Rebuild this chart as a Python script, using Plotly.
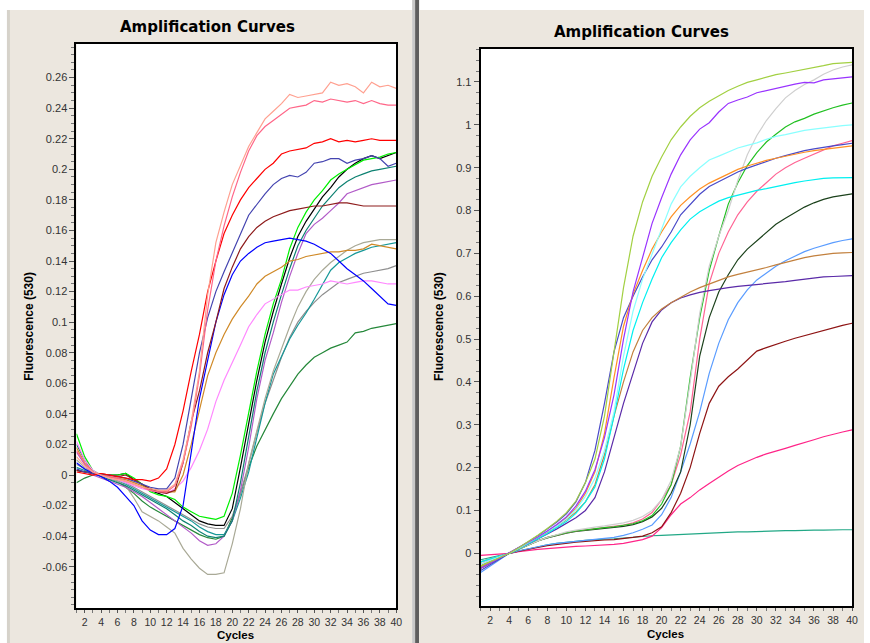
import plotly.graph_objects as go

W, H = 870, 643
cycles = list(range(1, 41))

# ---------------- Left panel data ----------------
L_salmon = [0.012, 0.006, 0.002, 0.0, -0.002, -0.003, -0.004, -0.006, -0.008, -0.009, -0.010, -0.010, -0.006, 0.010, 0.035, 0.068, 0.118, 0.152, 0.172, 0.190, 0.203, 0.215, 0.224, 0.233, 0.238, 0.243, 0.249, 0.247, 0.248, 0.249, 0.250, 0.257, 0.255, 0.256, 0.254, 0.250, 0.257, 0.254, 0.255, 0.253]
L_pink = [0.016, 0.008, 0.002, 0.0, -0.001, -0.002, -0.004, -0.006, -0.008, -0.010, -0.011, -0.011, -0.007, 0.008, 0.032, 0.065, 0.108, 0.140, 0.163, 0.182, 0.198, 0.212, 0.222, 0.228, 0.232, 0.236, 0.240, 0.241, 0.242, 0.245, 0.244, 0.246, 0.245, 0.244, 0.245, 0.243, 0.245, 0.243, 0.242, 0.242]
L_red = [0.002, 0.001, 0.0, 0.001, 0.0, -0.001, -0.002, -0.003, -0.003, -0.004, -0.002, 0.004, 0.020, 0.042, 0.068, 0.092, 0.120, 0.140, 0.158, 0.170, 0.180, 0.188, 0.194, 0.200, 0.204, 0.210, 0.212, 0.213, 0.214, 0.217, 0.218, 0.220, 0.218, 0.219, 0.218, 0.219, 0.220, 0.219, 0.219, 0.219]
L_slate = [0.004, 0.002, 0.001, 0.0, 0.0, -0.001, -0.002, -0.004, -0.006, -0.008, -0.009, -0.009, -0.002, 0.020, 0.050, 0.080, 0.103, 0.120, 0.133, 0.145, 0.158, 0.170, 0.177, 0.184, 0.190, 0.194, 0.196, 0.195, 0.198, 0.204, 0.205, 0.207, 0.207, 0.204, 0.206, 0.207, 0.209, 0.207, 0.202, 0.204]
L_maroon = [0.003, 0.002, 0.001, 0.001, 0.0, -0.001, 0.0, -0.003, -0.006, -0.009, -0.011, -0.012, -0.010, 0.008, 0.035, 0.055, 0.080, 0.100, 0.122, 0.136, 0.148, 0.156, 0.162, 0.166, 0.169, 0.171, 0.173, 0.174, 0.175, 0.176, 0.176, 0.177, 0.178, 0.178, 0.177, 0.176, 0.176, 0.176, 0.176, 0.176]
L_blue = [0.008, 0.004, 0.001, -0.001, -0.004, -0.008, -0.014, -0.020, -0.030, -0.036, -0.039, -0.039, -0.035, -0.020, 0.015, 0.050, 0.075, 0.100, 0.118, 0.131, 0.140, 0.145, 0.149, 0.152, 0.153, 0.154, 0.155, 0.154, 0.153, 0.151, 0.148, 0.145, 0.140, 0.135, 0.131, 0.127, 0.122, 0.117, 0.112, 0.111]
L_orange = [0.018, 0.008, 0.002, 0.0, -0.001, -0.002, -0.003, -0.005, -0.007, -0.009, -0.010, -0.011, -0.011, 0.000, 0.020, 0.042, 0.065, 0.080, 0.092, 0.102, 0.110, 0.117, 0.125, 0.130, 0.133, 0.136, 0.140, 0.141, 0.143, 0.144, 0.145, 0.146, 0.146, 0.147, 0.147, 0.148, 0.151, 0.150, 0.149, 0.148]
L_magenta = [0.022, 0.010, 0.003, 0.0, -0.002, -0.003, -0.005, -0.007, -0.009, -0.010, -0.011, -0.012, -0.009, -0.004, 0.005, 0.016, 0.030, 0.048, 0.062, 0.073, 0.085, 0.097, 0.105, 0.112, 0.115, 0.118, 0.121, 0.121, 0.123, 0.124, 0.125, 0.127, 0.126, 0.125, 0.126, 0.127, 0.127, 0.126, 0.125, 0.125]
L_lime = [0.027, 0.012, 0.003, 0.0, 0.0, 0.0, 0.001, -0.002, -0.006, -0.011, -0.013, -0.014, -0.016, -0.021, -0.024, -0.027, -0.028, -0.029, -0.027, -0.012, 0.013, 0.040, 0.068, 0.092, 0.112, 0.128, 0.148, 0.162, 0.172, 0.180, 0.186, 0.193, 0.197, 0.200, 0.203, 0.206, 0.207, 0.208, 0.210, 0.211]
L_black = [0.003, 0.002, 0.001, 0.0, 0.0, 0.0, 0.001, -0.003, -0.006, -0.010, -0.012, -0.014, -0.018, -0.022, -0.026, -0.030, -0.032, -0.033, -0.033, -0.022, 0.005, 0.033, 0.062, 0.087, 0.107, 0.125, 0.142, 0.156, 0.166, 0.174, 0.182, 0.188, 0.195, 0.200, 0.204, 0.207, 0.209, 0.207, 0.209, 0.211]
L_tealgreen = [0.020, 0.010, 0.002, -0.001, -0.003, -0.005, -0.007, -0.010, -0.013, -0.016, -0.019, -0.022, -0.026, -0.030, -0.033, -0.037, -0.040, -0.041, -0.040, -0.030, -0.005, 0.025, 0.055, 0.080, 0.100, 0.118, 0.135, 0.150, 0.160, 0.168, 0.176, 0.182, 0.188, 0.192, 0.195, 0.197, 0.199, 0.200, 0.201, 0.202]
L_purple = [0.015, 0.007, 0.0, -0.002, -0.004, -0.006, -0.008, -0.011, -0.014, -0.018, -0.022, -0.026, -0.030, -0.034, -0.038, -0.043, -0.046, -0.045, -0.040, -0.030, -0.010, 0.018, 0.050, 0.075, 0.093, 0.113, 0.130, 0.145, 0.158, 0.164, 0.168, 0.173, 0.178, 0.184, 0.186, 0.188, 0.190, 0.191, 0.192, 0.193]
L_khaki = [0.010, 0.005, 0.001, -0.001, -0.002, -0.004, -0.007, -0.015, -0.024, -0.027, -0.030, -0.034, -0.038, -0.048, -0.055, -0.061, -0.065, -0.065, -0.064, -0.045, -0.022, 0.008, 0.030, 0.050, 0.068, 0.083, 0.097, 0.110, 0.120, 0.128, 0.134, 0.139, 0.143, 0.147, 0.150, 0.152, 0.153, 0.154, 0.154, 0.154]
L_teal = [0.005, 0.003, 0.001, 0.0, -0.002, -0.004, -0.006, -0.009, -0.012, -0.015, -0.018, -0.021, -0.024, -0.027, -0.030, -0.034, -0.037, -0.039, -0.039, -0.030, -0.015, 0.002, 0.025, 0.047, 0.066, 0.078, 0.089, 0.098, 0.106, 0.115, 0.125, 0.134, 0.139, 0.142, 0.145, 0.147, 0.149, 0.150, 0.151, 0.152]
L_gray = [0.007, 0.004, 0.001, 0.0, -0.001, -0.003, -0.005, -0.008, -0.011, -0.014, -0.017, -0.020, -0.023, -0.026, -0.029, -0.032, -0.034, -0.035, -0.035, -0.027, -0.012, 0.007, 0.028, 0.047, 0.062, 0.077, 0.090, 0.100, 0.107, 0.113, 0.118, 0.122, 0.126, 0.128, 0.130, 0.132, 0.133, 0.134, 0.135, 0.137]
L_darkgreen = [-0.005, -0.002, 0.0, 0.0, -0.002, -0.004, -0.008, -0.012, -0.017, -0.021, -0.024, -0.027, -0.030, -0.033, -0.036, -0.039, -0.041, -0.042, -0.040, -0.028, -0.012, 0.005, 0.019, 0.030, 0.040, 0.050, 0.058, 0.066, 0.072, 0.077, 0.080, 0.083, 0.085, 0.087, 0.093, 0.094, 0.096, 0.097, 0.098, 0.099]

# ---------------- Right panel data ----------------
R_yg = [-0.030, -0.020, -0.010, 0.0, 0.013, 0.027, 0.042, 0.058, 0.075, 0.095, 0.122, 0.165, 0.220, 0.320, 0.470, 0.620, 0.740, 0.820, 0.880, 0.925, 0.965, 0.995, 1.020, 1.040, 1.055, 1.068, 1.080, 1.090, 1.099, 1.105, 1.111, 1.117, 1.121, 1.125, 1.129, 1.133, 1.138, 1.143, 1.144, 1.146]
R_purple = [-0.035, -0.023, -0.012, 0.0, 0.012, 0.025, 0.038, 0.052, 0.067, 0.085, 0.110, 0.145, 0.195, 0.270, 0.370, 0.500, 0.610, 0.690, 0.770, 0.830, 0.885, 0.930, 0.965, 0.990, 1.005, 1.030, 1.050, 1.058, 1.065, 1.075, 1.080, 1.086, 1.090, 1.095, 1.099, 1.098, 1.105, 1.107, 1.110, 1.112]
R_lcyan = [-0.025, -0.017, -0.008, 0.0, 0.012, 0.025, 0.037, 0.050, 0.064, 0.080, 0.102, 0.133, 0.175, 0.240, 0.330, 0.460, 0.565, 0.640, 0.700, 0.760, 0.815, 0.855, 0.880, 0.900, 0.918, 0.927, 0.936, 0.946, 0.952, 0.958, 0.966, 0.973, 0.977, 0.982, 0.987, 0.990, 0.993, 0.996, 0.998, 1.000]
R_orange = [-0.030, -0.020, -0.010, 0.0, 0.012, 0.025, 0.038, 0.051, 0.066, 0.083, 0.105, 0.140, 0.190, 0.280, 0.410, 0.530, 0.605, 0.660, 0.710, 0.750, 0.785, 0.812, 0.832, 0.850, 0.864, 0.875, 0.886, 0.896, 0.904, 0.911, 0.917, 0.922, 0.927, 0.931, 0.936, 0.940, 0.943, 0.946, 0.949, 0.951]
R_slate = [-0.040, -0.027, -0.013, 0.0, 0.013, 0.027, 0.041, 0.056, 0.073, 0.092, 0.120, 0.165, 0.240, 0.350, 0.470, 0.550, 0.600, 0.645, 0.685, 0.715, 0.750, 0.790, 0.815, 0.838, 0.856, 0.867, 0.879, 0.890, 0.899, 0.907, 0.915, 0.922, 0.928, 0.934, 0.940, 0.944, 0.948, 0.951, 0.954, 0.957]
R_cyan = [-0.020, -0.013, -0.007, 0.0, 0.011, 0.022, 0.034, 0.046, 0.059, 0.074, 0.093, 0.120, 0.155, 0.220, 0.320, 0.430, 0.520, 0.585, 0.640, 0.690, 0.725, 0.755, 0.780, 0.797, 0.810, 0.822, 0.830, 0.836, 0.842, 0.847, 0.851, 0.856, 0.861, 0.865, 0.869, 0.872, 0.875, 0.876, 0.876, 0.877]
R_tan = [-0.035, -0.023, -0.012, 0.0, 0.012, 0.024, 0.036, 0.049, 0.063, 0.078, 0.096, 0.120, 0.160, 0.230, 0.320, 0.400, 0.470, 0.520, 0.550, 0.570, 0.585, 0.598, 0.610, 0.620, 0.628, 0.636, 0.645, 0.651, 0.656, 0.662, 0.667, 0.673, 0.679, 0.684, 0.690, 0.694, 0.697, 0.700, 0.701, 0.702]
R_dviolet = [-0.030, -0.020, -0.010, 0.0, 0.011, 0.022, 0.033, 0.045, 0.057, 0.070, 0.083, 0.100, 0.130, 0.190, 0.270, 0.350, 0.420, 0.490, 0.540, 0.568, 0.585, 0.596, 0.603, 0.609, 0.613, 0.617, 0.620, 0.623, 0.625, 0.627, 0.629, 0.631, 0.634, 0.637, 0.640, 0.643, 0.645, 0.646, 0.647, 0.648]
R_lgray = [-0.020, -0.013, -0.007, 0.0, 0.010, 0.020, 0.029, 0.037, 0.044, 0.050, 0.054, 0.058, 0.061, 0.064, 0.067, 0.071, 0.077, 0.086, 0.100, 0.125, 0.170, 0.250, 0.400, 0.560, 0.670, 0.740, 0.800, 0.870, 0.930, 0.975, 1.010, 1.038, 1.063, 1.080, 1.094, 1.105, 1.118, 1.128, 1.135, 1.140]
R_green = [-0.030, -0.020, -0.010, 0.0, 0.010, 0.020, 0.029, 0.037, 0.043, 0.048, 0.052, 0.055, 0.058, 0.060, 0.062, 0.065, 0.069, 0.076, 0.088, 0.115, 0.160, 0.250, 0.410, 0.550, 0.660, 0.740, 0.815, 0.865, 0.905, 0.935, 0.960, 0.978, 0.995, 1.007, 1.015, 1.025, 1.033, 1.040, 1.046, 1.051]
R_pink = [-0.025, -0.017, -0.008, 0.0, 0.010, 0.020, 0.029, 0.037, 0.043, 0.048, 0.052, 0.055, 0.058, 0.060, 0.063, 0.066, 0.071, 0.080, 0.095, 0.125, 0.160, 0.230, 0.330, 0.500, 0.630, 0.700, 0.750, 0.790, 0.820, 0.845, 0.865, 0.885, 0.900, 0.912, 0.922, 0.932, 0.942, 0.951, 0.957, 0.963]
R_dgreen = [-0.035, -0.023, -0.012, 0.0, 0.010, 0.020, 0.029, 0.036, 0.042, 0.047, 0.051, 0.054, 0.056, 0.058, 0.060, 0.063, 0.067, 0.074, 0.085, 0.105, 0.140, 0.190, 0.300, 0.460, 0.550, 0.610, 0.650, 0.685, 0.710, 0.730, 0.750, 0.768, 0.782, 0.795, 0.808, 0.818, 0.826, 0.832, 0.836, 0.839]
R_cblue = [-0.045, -0.030, -0.015, 0.0, 0.006, 0.011, 0.016, 0.020, 0.023, 0.026, 0.028, 0.030, 0.032, 0.034, 0.037, 0.042, 0.048, 0.056, 0.066, 0.090, 0.130, 0.190, 0.255, 0.330, 0.420, 0.490, 0.545, 0.585, 0.615, 0.638, 0.655, 0.670, 0.683, 0.694, 0.704, 0.712, 0.719, 0.725, 0.730, 0.734]
R_maroon = [-0.020, -0.013, -0.007, 0.0, 0.005, 0.010, 0.014, 0.018, 0.021, 0.024, 0.026, 0.028, 0.030, 0.031, 0.032, 0.034, 0.037, 0.040, 0.048, 0.062, 0.095, 0.140, 0.200, 0.280, 0.350, 0.390, 0.412, 0.430, 0.452, 0.472, 0.480, 0.488, 0.495, 0.502, 0.508, 0.515, 0.520, 0.526, 0.532, 0.537]
R_hpink = [-0.005, -0.003, -0.002, 0.0, 0.004, 0.007, 0.009, 0.011, 0.013, 0.015, 0.016, 0.017, 0.018, 0.019, 0.021, 0.023, 0.027, 0.032, 0.040, 0.060, 0.090, 0.115, 0.130, 0.148, 0.163, 0.178, 0.192, 0.205, 0.215, 0.224, 0.232, 0.238, 0.245, 0.252, 0.258, 0.265, 0.272, 0.278, 0.283, 0.288]
R_tgreen = [-0.015, -0.010, -0.005, 0.0, 0.006, 0.011, 0.016, 0.020, 0.023, 0.026, 0.028, 0.030, 0.032, 0.033, 0.034, 0.036, 0.038, 0.040, 0.041, 0.042, 0.043, 0.044, 0.046, 0.047, 0.048, 0.048, 0.049, 0.050, 0.050, 0.051, 0.052, 0.052, 0.053, 0.053, 0.054, 0.054, 0.054, 0.055, 0.055, 0.055]

# tick labels
L_ytickvals = [-0.06, -0.04, -0.02, 0, 0.02, 0.04, 0.06, 0.08, 0.1, 0.12, 0.14, 0.16, 0.18, 0.2, 0.22, 0.24, 0.26]
L_yticktext = ["-0.06", "-0.04", "-0.02", "0", "0.02", "0.04", "0.06", "0.08", "0.1", "0.12", "0.14", "0.16", "0.18", "0.2", "0.22", "0.24", "0.26"]
R_ytickvals = [0, 0.1, 0.2, 0.3, 0.4, 0.5, 0.6, 0.7, 0.8, 0.9, 1.0, 1.1]
R_yticktext = ["0", "0.1", "0.2", "0.3", "0.4", "0.5", "0.6", "0.7", "0.8", "0.9", "1", "1.1"]
x_tickvals = [2, 4, 6, 8, 10, 12, 14, 16, 18, 20, 22, 24, 26, 28, 30, 32, 34, 36, 38, 40]

left_series = [
    (L_darkgreen, "#25883A"), (L_gray, "#8E8E8E"), (L_teal, "#169898"), (L_khaki, "#A9A996"),
    (L_purple, "#B25CC8"), (L_tealgreen, "#0E8272"), (L_black, "#000000"), (L_lime, "#00F000"),
    (L_magenta, "#FF88FF"), (L_orange, "#D08A28"), (L_blue, "#0000FF"), (L_maroon, "#8E1C1C"),
    (L_slate, "#4444B0"), (L_red, "#FF0000"), (L_pink, "#FF6688"), (L_salmon, "#FFA090"),
]
right_series = [
    (R_tgreen, "#22A886"), (R_hpink, "#FF2488"), (R_maroon, "#8E1414"), (R_cblue, "#5A9CFF"),
    (R_dgreen, "#1C421C"), (R_pink, "#FF6494"), (R_green, "#22C022"), (R_lgray, "#CFCFCF"),
    (R_dviolet, "#5A2AA8"), (R_tan, "#C2803E"), (R_cyan, "#00F0F0"), (R_slate, "#4A4AC8"),
    (R_orange, "#FF9024"), (R_lcyan, "#8AFFFF"), (R_purple, "#9933FF"), (R_yg, "#A2D042"),
]

fig = go.Figure()
for ys, col in left_series:
    fig.add_trace(go.Scatter(x=cycles, y=ys, mode="lines", line=dict(color=col, width=1.2),
                             xaxis="x", yaxis="y", showlegend=False, hoverinfo="skip"))
for ys, col in right_series:
    fig.add_trace(go.Scatter(x=cycles, y=ys, mode="lines", line=dict(color=col, width=1.2),
                             xaxis="x2", yaxis="y2", showlegend=False, hoverinfo="skip"))

def px(x):
    return x / W

def py(y):
    return 1 - y / H

tickfont = dict(family="Liberation Sans, Arial, sans-serif", size=11, color="#333333")
xtickfont = dict(family="Liberation Sans, Arial, sans-serif", size=10.5, color="#333333")
common_x = dict(range=[1, 40], tickmode="array", tickvals=x_tickvals, ticks="outside", ticklen=3,
                tickcolor="#555555", showgrid=False, zeroline=False, showline=True, linecolor="black",
                linewidth=2, mirror=True, tickfont=xtickfont,
                minor=dict(dtick=1, tick0=1, ticks="outside", ticklen=3, tickcolor="#777777"))

fig.update_layout(
    width=W, height=H, margin=dict(l=0, r=0, t=0, b=0),
    paper_bgcolor="white", plot_bgcolor="white",
    xaxis=dict(domain=[px(77), px(399)], anchor="y", **common_x),
    yaxis=dict(domain=[py(608), py(44)], anchor="x", range=[-0.0870, 0.282], tickmode="array",
               tickvals=L_ytickvals, ticktext=L_yticktext, ticks="outside", ticklen=5,
               tickcolor="#555555", showgrid=False, zeroline=False, showline=True,
               linecolor="black", linewidth=2, mirror=True, tickfont=tickfont,
               minor=dict(dtick=0.005, tick0=0, ticks="outside", ticklen=3, tickcolor="#777777")),
    xaxis2=dict(domain=[px(484), px(858)], anchor="y2", **common_x),
    yaxis2=dict(domain=[py(606), py(49)], anchor="x2", range=[-0.123, 1.177], tickmode="array",
                tickvals=R_ytickvals, ticktext=R_yticktext, ticks="outside", ticklen=5,
                tickcolor="#555555", showgrid=False, zeroline=False, showline=True,
                linecolor="black", linewidth=2, mirror=True, tickfont=tickfont,
                minor=dict(dtick=0.025, tick0=0, ticks="outside", ticklen=3, tickcolor="#777777")),
)

beige = "#ECE7DF"
shapes = [
    dict(type="rect", xref="paper", yref="paper", x0=px(7), x1=px(415), y0=0, y1=py(10),
         fillcolor=beige, line=dict(width=0), layer="below"),
    dict(type="rect", xref="paper", yref="paper", x0=px(7), x1=px(10), y0=0, y1=py(10),
         fillcolor="#D6D2CA", line=dict(width=0), layer="below"),
    dict(type="rect", xref="paper", yref="paper", x0=px(415), x1=px(418), y0=0, y1=1,
         fillcolor="#C8C8C8", line=dict(width=0), layer="below"),
    dict(type="rect", xref="paper", yref="paper", x0=px(418), x1=px(422), y0=0, y1=1,
         fillcolor="#5E5E5E", line=dict(width=0), layer="below"),
    dict(type="rect", xref="paper", yref="paper", x0=px(422), x1=1, y0=0, y1=py(10),
         fillcolor=beige, line=dict(width=0), layer="below"),
    dict(type="rect", xref="paper", yref="paper", x0=px(77), x1=px(399), y0=py(608), y1=py(44),
         fillcolor="white", line=dict(width=0), layer="below"),
    dict(type="rect", xref="paper", yref="paper", x0=px(484), x1=px(858), y0=py(606), y1=py(49),
         fillcolor="white", line=dict(width=0), layer="below"),
]
fig.update_layout(shapes=shapes)

tfont = dict(family="DejaVu Sans, sans-serif", size=15, color="black")
afont = dict(family="Liberation Sans, Arial, sans-serif", size=12, color="black")
cfont = dict(family="Liberation Sans, Arial, sans-serif", size=11.5, color="black")
ann = [
    dict(text="<b>Amplification Curves</b>", x=px(209), y=py(27), font=tfont, yanchor="middle"),
    dict(text="<b>Amplification Curves</b>", x=px(646), y=py(32), font=tfont, yanchor="middle"),
    dict(text="<b>Fluorescence (530)</b>", x=px(29), y=py(326), font=afont, textangle=-90, yanchor="middle"),
    dict(text="<b>Fluorescence (530)</b>", x=px(442), y=py(326), font=afont, textangle=-90, yanchor="middle"),
    dict(text="<b>Cycles</b>", x=px(237), y=0, font=cfont, yanchor="bottom"),
    dict(text="<b>Cycles</b>", x=px(670), y=py(634), font=cfont, yanchor="middle"),
]
for a in ann:
    a.update(xref="paper", yref="paper", showarrow=False, xanchor="center")
fig.update_layout(annotations=ann)

fig.write_html("out.html", config={"displayModeBar": False},
               post_script="document.body.style.margin='0';document.body.style.overflow='hidden';")
